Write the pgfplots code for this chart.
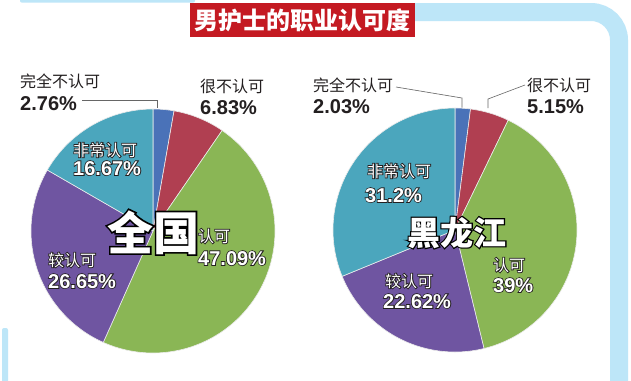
\documentclass[border=0pt]{standalone}
\usepackage{pgfplots}
\pgfplotsset{compat=1.18}
\usepackage{fontspec}
\setmainfont{Liberation Sans}
\newfontfamily\cjk{Noto Sans CJK SC}
\newfontfamily\cjkO{Noto Sans CJK SC}[FakeBold=10]
\newfontfamily\cjkBigO{Noto Sans CJK SC}[FakeBold=7]
\newfontfamily\numO{Liberation Sans}[FakeBold=8]
\definecolor{cBlue}{HTML}{4A72B8}
\definecolor{cRed}{HTML}{B03F51}
\definecolor{cGreen}{HTML}{8AB655}
\definecolor{cPurple}{HTML}{6F55A1}
\definecolor{cTeal}{HTML}{4BA6BD}
\definecolor{frameblue}{HTML}{BDE6F8}
\definecolor{titlered}{HTML}{C41A22}
\definecolor{ink}{HTML}{231F20}
% slice: #1 cumulative percent before, #2 percent, #3 colour
\newcommand\slice[3]{%
  \addplot[fill=#3, draw=white!85!gray, line width=0.6pt,
    domain={90-3.6*(#1+#2)}:{90-3.6*(#1)}, samples=90, variable=\t]
    ({cos(\t)},{sin(\t)}) -- (axis cs:0,0) -- cycle;}
\newcommand\lab[1]{{\fontsize{16}{18}\selectfont\cjk #1}}
\newcommand\num[1]{{\fontsize{20}{22}\selectfont\bfseries #1}}
\newcommand\ilab[1]{{\fontsize{16}{18}\selectfont\rlap{\color{ink}\cjkO #1}\color{white}\cjk #1}}
\newcommand\inum[1]{{\fontsize{20}{22}\selectfont\bfseries\rlap{\color{ink}\numO\bfseries #1}\color{white}#1}}
\newcommand\bigname[2]{{\fontsize{#1}{#1}\selectfont\bfseries\rlap{\color{black}\cjkBigO\bfseries #2}\color{white}\cjk\bfseries #2}}
\begin{document}
\begin{tikzpicture}
\path[use as bounding box, fill=white] (0pt,0pt) rectangle (631pt,-380pt);
\clip (0pt,0pt) rectangle (631pt,-380pt);
\begin{scope}[x=1pt,y=-1pt]
  % frame
  \fill[frameblue, rounded corners=2pt] (20,-10) rectangle (195,2.7);
  \draw[frameblue, line width=18pt, rounded corners=28pt] (405,12) -- (619,12) -- (619,400);
  \fill[frameblue, rounded corners=2pt] (2,328) rectangle (8,390);
  % title
  \fill[titlered] (190,3) rectangle (415,37);
  \node[text=white, inner sep=0, anchor=center] at (302.5,20.5)
    {\fontsize{24}{26}\selectfont\cjk\bfseries 男护士的职业认可度};
\end{scope}

% ---- national pie ----
\begin{axis}[at={(153pt,-231pt)}, anchor=center, hide axis, scale only axis,
  width=244pt, height=244pt, xmin=-1, xmax=1, ymin=-1, ymax=1, clip=false]
  \slice{0}{2.76}{cBlue}
  \slice{2.76}{6.83}{cRed}
  \slice{9.59}{47.09}{cGreen}
  \slice{56.68}{26.65}{cPurple}
  \slice{83.33}{16.67}{cTeal}
\end{axis}

% ---- Heilongjiang pie ----
\begin{axis}[at={(455pt,-230pt)}, anchor=center, hide axis, scale only axis,
  width=244pt, height=244pt, xmin=-1, xmax=1, ymin=-1, ymax=1, clip=false]
  \slice{0}{2.03}{cBlue}
  \slice{2.03}{5.15}{cRed}
  \slice{7.18}{39}{cGreen}
  \slice{46.18}{22.62}{cPurple}
  \slice{68.80}{31.2}{cTeal}
\end{axis}

\begin{scope}[x=1pt,y=-1pt]
  % leader lines
  \draw[gray!80!black, line width=0.6pt] (82,100) -- (157,100) -- (157,107.5);
  \draw[gray!80!black, line width=0.6pt] (396,87) -- (462,98) -- (462,107.5);
  \draw[gray!80!black, line width=0.6pt] (525,85) -- (488,99) -- (488,108);
  \tikzset{lb/.style={anchor=base west, inner sep=0, text=ink}}
  % national outside labels
  \node[lb] at (20,87) {\lab{完全不认可}};
  \node[lb] at (20,110) {\num{2.76\%}};
  \node[lb] at (200,92) {\lab{很不认可}};
  \node[lb] at (200,114) {\num{6.83\%}};
  % Heilongjiang outside labels
  \node[lb] at (313,91) {\lab{完全不认可}};
  \node[lb] at (313,113) {\num{2.03\%}};
  \node[lb] at (527,91) {\lab{很不认可}};
  \node[lb] at (527,113) {\num{5.15\%}};
  % inside labels (white, outlined)
  \tikzset{il/.style={anchor=base west, inner sep=0}}
  \node[il] at (73,156) {\ilab{非常认可}};
  \node[il] at (73,175) {\inum{16.67\%}};
  \node[il] at (198,242) {\ilab{认可}};
  \node[il] at (198,265) {\inum{47.09\%}};
  \node[il] at (48,266) {\ilab{较认可}};
  \node[il] at (48,288) {\inum{26.65\%}};
  \node[il] at (367,177) {\ilab{非常认可}};
  \node[il] at (365,202) {\inum{31.2\%}};
  \node[il] at (493,271) {\ilab{认可}};
  \node[il] at (493,292) {\inum{39\%}};
  \node[il] at (385,287) {\ilab{较认可}};
  \node[il] at (383,308) {\inum{22.62\%}};
  % big region names
  \node[il] at (107,250) {\bigname{46}{全国}};
  \node[il] at (407,245) {\bigname{33}{黑龙江}};
\end{scope}
\end{tikzpicture}
\end{document}
